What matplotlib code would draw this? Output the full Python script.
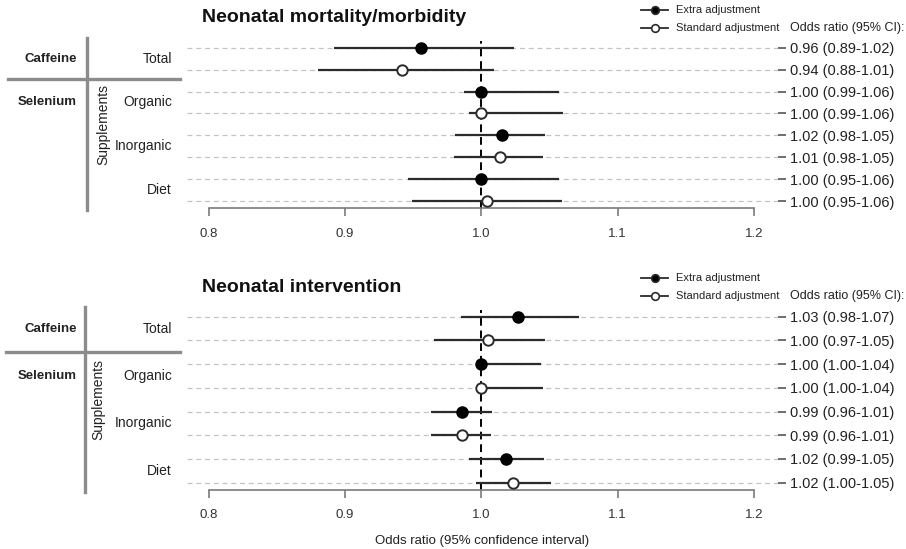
import matplotlib
matplotlib.use("Agg")
import matplotlib.pyplot as plt
from matplotlib.lines import Line2D
from matplotlib.transforms import blended_transform_factory

plt.rcParams['font.family'] = ['Liberation Sans', 'DejaVu Sans']

# ---------------- data ----------------
row_groups = ["Total", "Organic", "Inorganic", "Diet"]
adjustments = ["Extra adjustment", "Standard adjustment"]

mort_title = "Neonatal mortality/morbidity"
mort_or = [0.956, 0.942, 1.000, 1.000, 1.015, 1.014, 1.000, 1.004]
mort_lo = [0.892, 0.880, 0.987, 0.991, 0.981, 0.980, 0.946, 0.949]
mort_hi = [1.024, 1.009, 1.057, 1.060, 1.047, 1.045, 1.057, 1.059]
mort_labels = ["0.96 (0.89-1.02)", "0.94 (0.88-1.01)", "1.00 (0.99-1.06)",
               "1.00 (0.99-1.06)", "1.02 (0.98-1.05)", "1.01 (0.98-1.05)",
               "1.00 (0.95-1.06)", "1.00 (0.95-1.06)"]

int_title = "Neonatal intervention"
int_or = [1.027, 1.005, 1.000, 1.000, 0.986, 0.986, 1.018, 1.023]
int_lo = [0.985, 0.965, 1.000, 1.000, 0.963, 0.963, 0.991, 0.996]
int_hi = [1.072, 1.047, 1.044, 1.045, 1.008, 1.007, 1.046, 1.051]
int_labels = ["1.03 (0.98-1.07)", "1.00 (0.97-1.05)", "1.00 (1.00-1.04)",
              "1.00 (1.00-1.04)", "0.99 (0.96-1.01)", "0.99 (0.96-1.01)",
              "1.02 (0.99-1.05)", "1.02 (1.00-1.05)"]

x_ticks = [0.8, 0.9, 1.0, 1.1, 1.2]
x_tick_labels = ["0.8", "0.9", "1.0", "1.1", "1.2"]
x_label = "Odds ratio (95% confidence interval)"
ci_header = "Odds ratio (95% CI):"

# ---------------- figure ----------------
W, H = 906, 549
fig = plt.figure(figsize=(W / 100, H / 100), dpi=100)

def fx(px):
    return px / W

def fy(py):
    return 1 - py / H

GRAY = "#8c8c8c"
DARK = "#2b2b2b"
XMIN, XMAX = 0.7841, 1.2177


def panel(top_px, spine_px, row0_px, rowlast_px, title, vals, lo, hi, labels,
          title_py, legend_py, vline_x, hline_y, hline_x0, supp_x, show_xlabel):
    sp = (rowlast_px - row0_px) / 7.0
    y_top = (row0_px - top_px) / sp
    y_bot = -7 - (spine_px - rowlast_px) / sp
    ax = fig.add_axes([fx(187), fy(spine_px), fx(778 - 187), (spine_px - top_px) / H])
    ax.set_xlim(XMIN, XMAX)
    ax.set_ylim(y_bot, y_top)
    ys = [-i for i in range(len(vals))]

    # gridlines
    for y in ys:
        ax.axhline(y, color="#c4c4c4", lw=0.9, ls=(0, (4, 3)), zorder=0)
    # reference line
    ax.plot([1.0, 1.0], [y_bot, ys[0] + 0.3], color="black", lw=1.4,
            ls=(0, (4, 2.5)), zorder=1)
    # CIs and points
    for i, y in enumerate(ys):
        ax.plot([lo[i], hi[i]], [y, y], color=DARK, lw=1.6, zorder=2,
                solid_capstyle="butt")
        if i % 2 == 0:
            ax.plot(vals[i], y, "o", ms=8, mfc="black", mec="black", zorder=3)
        else:
            ax.plot(vals[i], y, "o", ms=7.5, mfc="white", mec=DARK, mew=1.4,
                    zorder=3)

    # axes styling
    for s in ["top", "left", "right"]:
        ax.spines[s].set_visible(False)
    ax.spines["bottom"].set_bounds(0.8, 1.2)
    ax.spines["bottom"].set_color("#7a7a7a")
    ax.spines["bottom"].set_linewidth(1.2)
    ax.set_xticks(x_ticks)
    ax.set_xticklabels(x_tick_labels)
    ax.tick_params(axis="x", length=6, width=1.2, color="#7a7a7a",
                   labelsize=9.5, labelcolor="#333333", pad=8)
    ax.yaxis.tick_right()
    ax.set_yticks(ys)
    ax.set_yticklabels(labels)
    ax.tick_params(axis="y", length=6, width=1.2, color="#555555",
                   labelsize=10.5, labelcolor="#222222", pad=3)
    ax.patch.set_alpha(0)
    if show_xlabel:
        ax.set_xlabel(x_label, fontsize=9.5, color="#222222", labelpad=10)

    # title
    fig.text(fx(202), fy(title_py), title, fontsize=14, fontweight="bold",
             va="center", ha="left", color="#111111")

    # legend
    for k, (name, filled) in enumerate(zip(adjustments, [True, False])):
        ly = fy(legend_py + 18 * k)
        fig.add_artist(Line2D([fx(641), fx(668)], [ly, ly], color=DARK, lw=1.3))
        fig.add_artist(Line2D([fx(654.5)], [ly], marker="o", ms=5.5,
                              mfc="black" if filled else "white",
                              mec=DARK, mew=1.2, lw=0))
        fig.text(fx(676), ly, name, fontsize=8, va="center", ha="left",
                 color="#222222")
    fig.text(fx(790), fy(legend_py + 18), ci_header, fontsize=9, va="center",
             ha="left", color="#222222")

    # left labels
    tr = blended_transform_factory(fig.transFigure, ax.transData)
    for g, name in enumerate(row_groups):
        ymid = -(2 * g + 0.5)
        fig.text(fx(172), ymid, name, transform=tr, fontsize=10, ha="right",
                 va="center", color="#222222")
    fig.text(fx(77), -0.5, "Caffeine", transform=tr, fontsize=9.5,
             fontweight="bold", ha="right", va="center", color="#222222")
    fig.text(fx(77), -2.5, "Selenium", transform=tr, fontsize=9.5,
             fontweight="bold", ha="right", va="center", color="#222222")
    fig.text(fx(supp_x), -3.5, "Supplements", transform=tr, fontsize=10,
             rotation=90, ha="center", va="center", color="#222222")
    # structure lines
    fig.add_artist(Line2D([fx(vline_x), fx(vline_x)],
                          [fy(row0_px - 10), fy(spine_px + 2)],
                          color=GRAY, lw=2.4))
    fig.add_artist(Line2D([fx(hline_x0), fx(180)], [fy(hline_y), fy(hline_y)],
                          color=GRAY, lw=2.4))
    return ax


panel(36, 208.3, 47.7, 201.0, mort_title, mort_or, mort_lo, mort_hi, mort_labels,
      title_py=18, legend_py=10, vline_x=87, hline_y=79, hline_x0=8,
      supp_x=103, show_xlabel=False)
panel(305, 490, 316.7, 482.7, int_title, int_or, int_lo, int_hi, int_labels,
      title_py=287, legend_py=278, vline_x=85, hline_y=352, hline_x0=6,
      supp_x=98, show_xlabel=True)

fig.savefig("out.png", dpi=100, facecolor="white")
